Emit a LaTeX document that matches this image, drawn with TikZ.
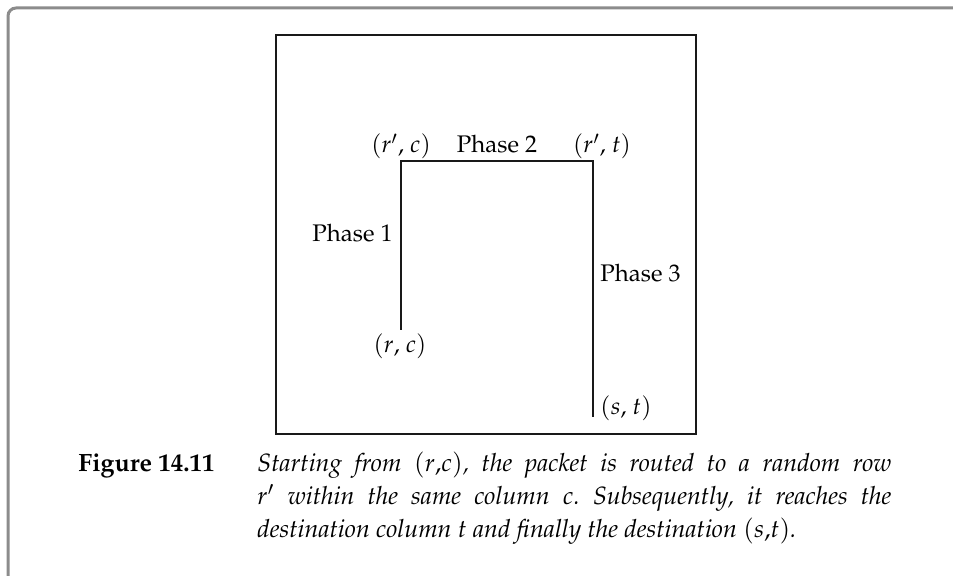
\documentclass[tikz,border=0pt]{standalone}
\usepackage[T1]{fontenc}
\usepackage{mathpazo}
\begin{document}
\begin{tikzpicture}[x=0.5pt,y=-0.5pt,
  frame/.style={draw=black!45,line width=1.5pt,rounded corners=4pt},
  box/.style={draw=black!90,line width=0.7pt},
  route/.style={draw=black!90,line width=0.75pt},
  lab/.style={inner sep=0pt,font=\fontsize{12}{14}\selectfont},
  captext/.style={inner sep=0pt,font=\fontsize{12.5}{16.5}\selectfont\frenchspacing}]
\useasboundingbox (0,0) rectangle (953,576);
\draw[frame] (8,580) -- (8,8) -- (960,8);
\draw[box] (276,35) rectangle (696,434);
\coordinate (rc) at (401,330);
\coordinate (rpc) at (401,161);
\coordinate (rpt) at (593,161);
\coordinate (st) at (593,417);
\draw[route] (rc) -- (rpc) -- (rpt) -- (st);
\node[lab,anchor=base] (l1) at (401,153) {$(r'$, $c)$};
\node[lab,anchor=base] (l2) at (497,153) {Phase 2};
\node[lab,anchor=base] (l3) at (602,153) {$(r'$, $t)$};
\node[lab,anchor=base east] (l4) at (393,242) {Phase 1};
\node[lab,anchor=base west] (l5) at (600,282) {Phase 3};
\node[lab,anchor=base] (l6) at (400,353) {$(r$, $c)$};
\node[lab,anchor=base west] (l7) at (600,415) {$(s$, $t)$};
\node[captext,anchor=base west] (fig) at (78,472) {\textbf{Figure 14.11}};
\node[captext,anchor=base west,text width=317pt,align=justify] (txt) at (257,472)
 {\itshape Starting from $(r{,}c)$, the packet is routed to a random row\linebreak
 $r'$ within the same column $c$. Subsequently, it reaches the\linebreak
 destination column $t$ and finally the destination $(s{,}t)$.};
\end{tikzpicture}
\end{document}
